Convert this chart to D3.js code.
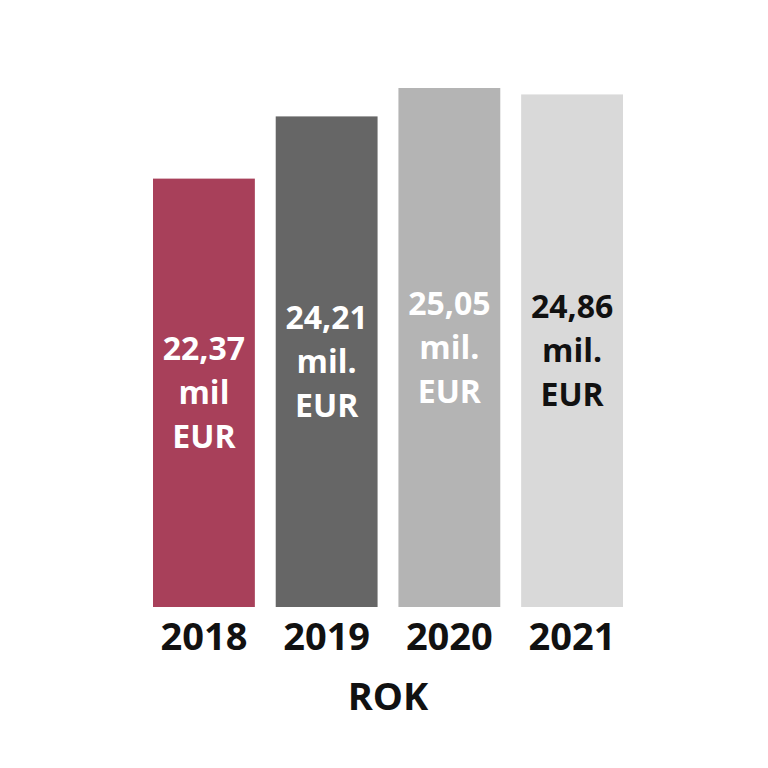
<!DOCTYPE html>
<html lang="sk">
<head>
  <meta charset="UTF-8">
  <title>ROK</title>
  <script src="https://cdn.jsdelivr.net/npm/d3@7"></script>
  <style>
    body {
      margin: 0;
      padding: 0;
      background-color: #fff;
    }
    svg {
      display: block;
      font-family: "Open Sans", sans-serif;
      font-weight: 700;
    }
  </style>
</head>
<body>
  <div id="chart"></div>

  <script>
    const years = ["2018", "2019", "2020", "2021"];
    const values = [22.37, 24.21, 25.05, 24.86];
    const valueLabels = [
      ["22,37", "mil", "EUR"],
      ["24,21", "mil.", "EUR"],
      ["25,05", "mil.", "EUR"],
      ["24,86", "mil.", "EUR"]
    ];
    const barColors = ["#a8405a", "#666666", "#b4b4b4", "#d9d9d9"];
    const textColors = ["#ffffff", "#ffffff", "#ffffff", "#111111"];
    const axisTitle = "ROK";

    const width = 768, height = 768;
    const baseY = 607;

    const svg = d3.select("#chart").append("svg")
      .attr("width", width)
      .attr("height", height);

    const x = d3.scaleBand()
      .domain(years)
      .range([153, 623])
      .paddingInner(0.17)
      .paddingOuter(0);

    // the bars don't start at zero in the original picture
    const y = d3.scaleLinear()
      .domain([9.7, 25.05])
      .range([baseY, 88]);

    const data = years.map((yr, i) => ({
      year: yr, value: values[i], lines: valueLabels[i],
      color: barColors[i], textColor: textColors[i]
    }));

    svg.selectAll(".bar")
      .data(data)
      .enter().append("rect")
      .attr("class", "bar")
      .attr("x", d => x(d.year))
      .attr("y", d => y(d.value))
      .attr("width", x.bandwidth())
      .attr("height", d => baseY - y(d.value))
      .attr("fill", d => d.color);

    const lineGap = 44;
    const labels = svg.selectAll(".val")
      .data(data)
      .enter().append("text")
      .attr("class", "val")
      .attr("text-anchor", "middle")
      .attr("font-size", 32)
      .attr("fill", d => d.textColor);

    labels.selectAll("tspan")
      .data(d => d.lines.map((t, j) => ({ t, j, d })))
      .enter().append("tspan")
      .attr("x", o => x(o.d.year) + x.bandwidth() / 2)
      .attr("y", o => (y(o.d.value) + baseY) / 2 + 11 + (o.j - 1) * lineGap)
      .text(o => o.t);

    svg.selectAll(".year")
      .data(years)
      .enter().append("text")
      .attr("class", "year")
      .attr("x", d => x(d) + x.bandwidth() / 2)
      .attr("y", 650)
      .attr("text-anchor", "middle")
      .attr("font-size", 38)
      .attr("fill", "#111")
      .text(d => d);

    svg.append("text")
      .attr("x", (x.range()[0] + x.range()[1]) / 2)
      .attr("y", 710)
      .attr("text-anchor", "middle")
      .attr("font-size", 38)
      .attr("fill", "#111")
      .text(axisTitle);
  </script>
</body>
</html>
